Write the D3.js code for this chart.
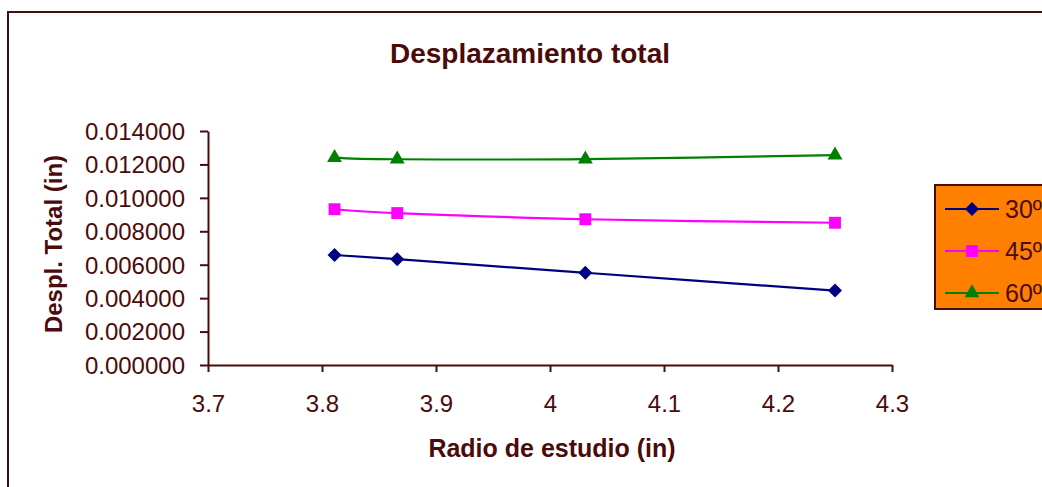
<!DOCTYPE html>
<html>
<head>
<meta charset="utf-8">
<script src="https://cdn.jsdelivr.net/npm/d3@7/dist/d3.min.js"></script>
<style>
  html, body { margin: 0; padding: 0; background: #fff; }
  svg { display: block; }
</style>
</head>
<body>
<svg id="chart" width="1042" height="487"></svg>
<script>
// ---- data ----
const radios = [3.811, 3.866, 4.031, 4.25];
const serie30 = [0.00658, 0.00633, 0.00552, 0.00445];
const serie45 = [0.00932, 0.00909, 0.00872, 0.00851];
const serie60 = [0.01241, 0.01231, 0.01232, 0.01256];
const seriesNames = ["30º", "45º", "60º"];
const xTicks = [3.7, 3.8, 3.9, 4.0, 4.1, 4.2, 4.3];
const yTicks = [0, 0.002, 0.004, 0.006, 0.008, 0.010, 0.012, 0.014];
const chartTitle = "Desplazamiento total";
const xTitle = "Radio de estudio (in)";
const yTitle = "Despl. Total (in)";

// ---- style ----
const brown = "#4B0B0B";
const font = "'Liberation Sans', Arial, sans-serif";
const colors = ["#000080", "#FF00FF", "#008000"];
const markerTypes = [d3.symbolDiamond2, d3.symbolSquare2, d3.symbolTriangle2];
const markerSizes = [125, 180, 160];

const svg = d3.select("#chart");

// outer chart border (extends past right/bottom edges)
svg.append("rect")
  .attr("x", 8).attr("y", 12)
  .attr("width", 1100).attr("height", 600)
  .attr("fill", "#fff")
  .attr("stroke", brown).attr("stroke-width", 2);

const x = d3.scaleLinear().domain([3.7, 4.3]).range([208, 892]);
const y = d3.scaleLinear().domain([0, 0.014]).range([365, 131]);

// axes
const gy = svg.append("g").attr("transform", "translate(208,0)")
  .call(d3.axisLeft(y).tickValues(yTicks).tickFormat(d3.format(".6f"))
    .tickSize(8).tickSizeOuter(0).tickPadding(15));
const gx = svg.append("g").attr("transform", "translate(0,365)")
  .call(d3.axisBottom(x).tickValues(xTicks).tickFormat(d => d3.format("")(+d.toFixed(1)))
    .tickSize(7).tickSizeOuter(0).tickPadding(23));

[gy, gx].forEach(g => {
  g.select(".domain").attr("stroke", brown).attr("stroke-width", 2);
  g.selectAll(".tick line").attr("stroke", brown).attr("stroke-width", 2);
  g.selectAll(".tick text").attr("fill", brown)
    .style("font-family", font).style("font-size", "24px");
});
gy.selectAll(".tick text").attr("dy", "0.35em");

// series
const allSeries = [serie30, serie45, serie60];
const line = d3.line()
  .x((d, i) => x(radios[i]))
  .y(d => y(d))
  .curve(d3.curveCardinal.tension(0));

allSeries.forEach((s, k) => {
  svg.append("path")
    .datum(s)
    .attr("d", line)
    .attr("fill", "none")
    .attr("stroke", colors[k])
    .attr("stroke-width", 2.2);
  svg.selectAll(null).data(s).enter().append("path")
    .attr("transform", (d, i) => `translate(${x(radios[i])},${y(d)})`)
    .attr("d", d3.symbol().type(markerTypes[k]).size(markerSizes[k]))
    .attr("fill", colors[k]);
});

// titles
svg.append("text")
  .attr("x", 530).attr("y", 63)
  .attr("text-anchor", "middle")
  .attr("fill", brown)
  .style("font-family", font).style("font-size", "28px").style("font-weight", "bold")
  .text(chartTitle);

svg.append("text")
  .attr("x", 552).attr("y", 457)
  .attr("text-anchor", "middle")
  .attr("fill", brown)
  .style("font-family", font).style("font-size", "25px").style("font-weight", "bold")
  .text(xTitle);

svg.append("text")
  .attr("transform", "translate(62,244) rotate(-90)")
  .attr("text-anchor", "middle")
  .attr("fill", brown)
  .style("font-family", font).style("font-size", "24px").style("font-weight", "bold")
  .text(yTitle);

// legend
const lg = svg.append("g");
lg.append("rect")
  .attr("x", 935).attr("y", 185)
  .attr("width", 200).attr("height", 124)
  .attr("fill", "#FF8000")
  .attr("stroke", brown).attr("stroke-width", 2);

const rowY = [209, 251, 293];
seriesNames.forEach((name, k) => {
  lg.append("line")
    .attr("x1", 945).attr("x2", 999)
    .attr("y1", rowY[k]).attr("y2", rowY[k])
    .attr("stroke", colors[k]).attr("stroke-width", 2);
  lg.append("path")
    .attr("transform", `translate(972,${rowY[k]})`)
    .attr("d", d3.symbol().type(markerTypes[k]).size(markerSizes[k]))
    .attr("fill", colors[k]);
  lg.append("text")
    .attr("x", 1005).attr("y", rowY[k]).attr("dy", "0.36em")
    .attr("fill", brown)
    .style("font-family", font).style("font-size", "25px")
    .text(name);
});
</script>
</body>
</html>
